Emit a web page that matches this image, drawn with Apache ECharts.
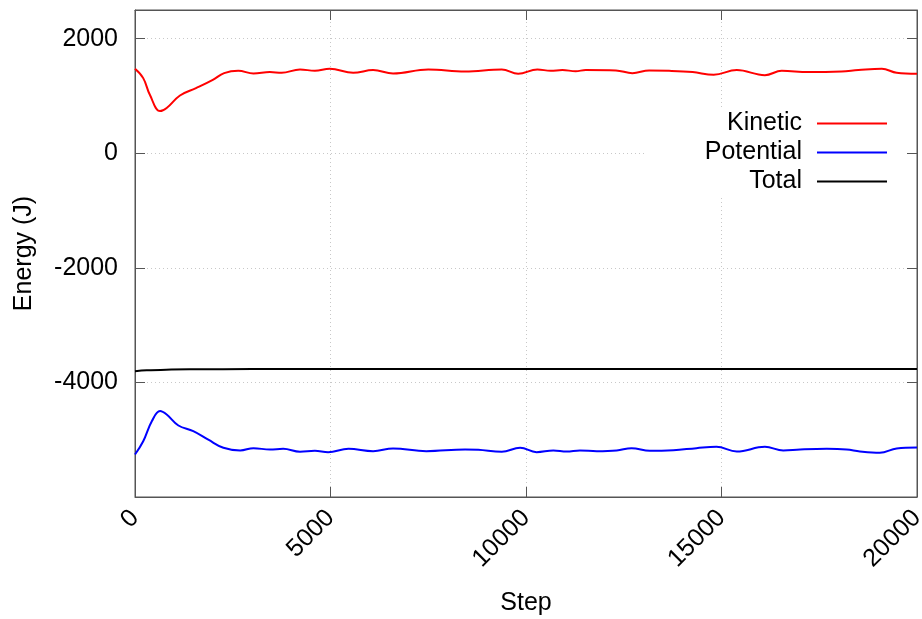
<!DOCTYPE html>
<html>
<head>
<meta charset="utf-8">
<script src="https://cdn.jsdelivr.net/npm/echarts@6/dist/echarts.min.js"></script>
<style>
  html, body { margin: 0; padding: 0; background: #fff; }
  #chart { width: 922px; height: 619px; }
</style>
</head>
<body>
<div id="chart"></div>
<script>
// Energy of the simulated system over the run
const kineticSteps = [0, 210, 380, 640, 810, 1150, 1560, 1990, 2280, 2640, 3030, 3450, 3750, 4220, 4600, 4980,
  5580, 6090, 6600, 7500, 8440, 9380, 9800, 10290, 10630, 10930, 11270, 11530, 12300, 12720, 13150, 13660,
  14260, 14800, 15390, 16110, 16540, 17220, 18070, 18500, 19100, 19480, 20000];
const kineticEnergy = [1474, 1311, 1020, 735, 790, 1008, 1137, 1282, 1398, 1439, 1392, 1416, 1404, 1462, 1439, 1474,
  1404, 1451, 1392, 1462, 1427, 1462, 1386, 1462, 1439, 1451, 1433, 1451, 1445, 1398, 1445, 1439,
  1416, 1370, 1451, 1363, 1439, 1416, 1427, 1451, 1474, 1404, 1386];

const potentialSteps = [0, 210, 430, 640, 810, 1110, 1490, 1875, 2260, 2690, 3030, 3450, 3790, 4220, 4600, 4940,
  5460, 6090, 6600, 7450, 8440, 8780, 9380, 9850, 10270, 10700, 11040, 11380, 11810, 12320, 12700, 13170,
  13770, 14360, 14870, 15390, 16110, 16580, 17010, 17690, 18200, 18540, 19050, 19480, 20000];
const potentialEnergy = [-5258, -5026, -4677, -4500, -4561, -4752, -4851, -5000, -5141, -5188, -5148, -5172, -5160, -5211, -5194, -5217,
  -5159, -5200, -5153, -5200, -5171, -5177, -5212, -5141, -5217, -5188, -5206, -5188, -5200, -5188, -5147, -5194,
  -5182, -5147, -5124, -5206, -5124, -5188, -5171, -5159, -5171, -5206, -5229, -5153, -5136];

const totalSteps = [0, 300, 800, 1500, 3000, 5000, 10000, 15000, 20000];
const totalEnergy = [-3805, -3788, -3777, -3772, -3768, -3766, -3766, -3765, -3765];

const seriesNames = ['Kinetic', 'Potential', 'Total'];
const seriesColors = ['#ff0000', '#0000ff', '#000000'];

const FONT = 'Liberation Sans';
const FONT_SIZE = 25;

function pairs(xs, ys) { return xs.map((x, i) => [x, ys[i]]); }
const plain = v => String(v);

const frameColor = '#555';
const gridLine = { show: true, lineStyle: { color: '#c8c8c8', type: [1, 3], width: 1 } };

const chart = echarts.init(document.getElementById('chart'), null, { renderer: 'canvas' });

// one legend per entry so that the labels line up on their right edge
const legendTops = [107, 136, 165];
const legends = seriesNames.map((name, i) => ({
  data: [name],
  right: 17,
  top: legendTops[i],
  align: 'right',
  orient: 'vertical',
  icon: 'rect',
  itemWidth: 70,
  itemHeight: 2,
  backgroundColor: '#fff',
  padding: [4, 18, 4, 60],
  selectedMode: false,
  textStyle: { fontFamily: FONT, fontSize: FONT_SIZE, color: '#000', padding: [0, 10, 0, 0] }
}));

chart.setOption({
  animation: false,
  backgroundColor: '#fff',
  grid: {
    left: 135, right: 5, top: 10, bottom: 122,
    containLabel: false, outerBoundsMode: 'none',
    show: true, borderColor: frameColor, borderWidth: 1
  },
  legend: legends,
  xAxis: [{
    type: 'value', min: 0, max: 20000, interval: 5000, position: 'bottom',
    name: 'Step', nameLocation: 'middle', nameGap: 94, nameMoveOverlap: false,
    nameTextStyle: { fontFamily: FONT, fontSize: FONT_SIZE, color: '#000' },
    axisLine: { show: true, onZero: false, lineStyle: { color: frameColor } },
    axisTick: { show: true, inside: true, length: 10, lineStyle: { color: frameColor } },
    axisLabel: { rotate: 45, margin: 17, formatter: plain, fontFamily: FONT, fontSize: FONT_SIZE, color: '#000' },
    splitLine: gridLine
  }, {
    type: 'value', min: 0, max: 20000, interval: 5000, position: 'top',
    axisLine: { show: true, onZero: false, lineStyle: { color: frameColor } },
    axisTick: { show: true, inside: true, length: 10, lineStyle: { color: frameColor } },
    axisLabel: { show: false },
    splitLine: { show: false }
  }],
  yAxis: [{
    type: 'value', min: -6000, max: 2500, interval: 2000, position: 'left',
    name: 'Energy (J)', nameLocation: 'middle', nameGap: 98, nameMoveOverlap: false,
    nameTextStyle: { fontFamily: FONT, fontSize: FONT_SIZE, color: '#000' },
    axisLine: { show: true, onZero: false, lineStyle: { color: frameColor } },
    axisTick: { show: true, inside: true, length: 10, lineStyle: { color: frameColor } },
    axisLabel: { margin: 17, formatter: plain, showMinLabel: false, showMaxLabel: false, fontFamily: FONT, fontSize: FONT_SIZE, color: '#000' },
    splitLine: gridLine
  }, {
    type: 'value', min: -6000, max: 2500, interval: 2000, position: 'right',
    axisLine: { show: true, onZero: false, lineStyle: { color: frameColor } },
    axisTick: { show: true, inside: true, length: 10, lineStyle: { color: frameColor } },
    axisLabel: { show: false },
    splitLine: { show: false }
  }],
  series: [
    { name: seriesNames[0], data: pairs(kineticSteps, kineticEnergy) },
    { name: seriesNames[1], data: pairs(potentialSteps, potentialEnergy) },
    { name: seriesNames[2], data: pairs(totalSteps, totalEnergy) }
  ].map((s, i) => Object.assign(s, {
    type: 'line', xAxisIndex: 0, yAxisIndex: 0,
    smooth: 0.4, symbol: 'none', showSymbol: false,
    color: seriesColors[i],
    lineStyle: { color: seriesColors[i], width: 2 },
    z: 3 - i
  }))
});
</script>
</body>
</html>
